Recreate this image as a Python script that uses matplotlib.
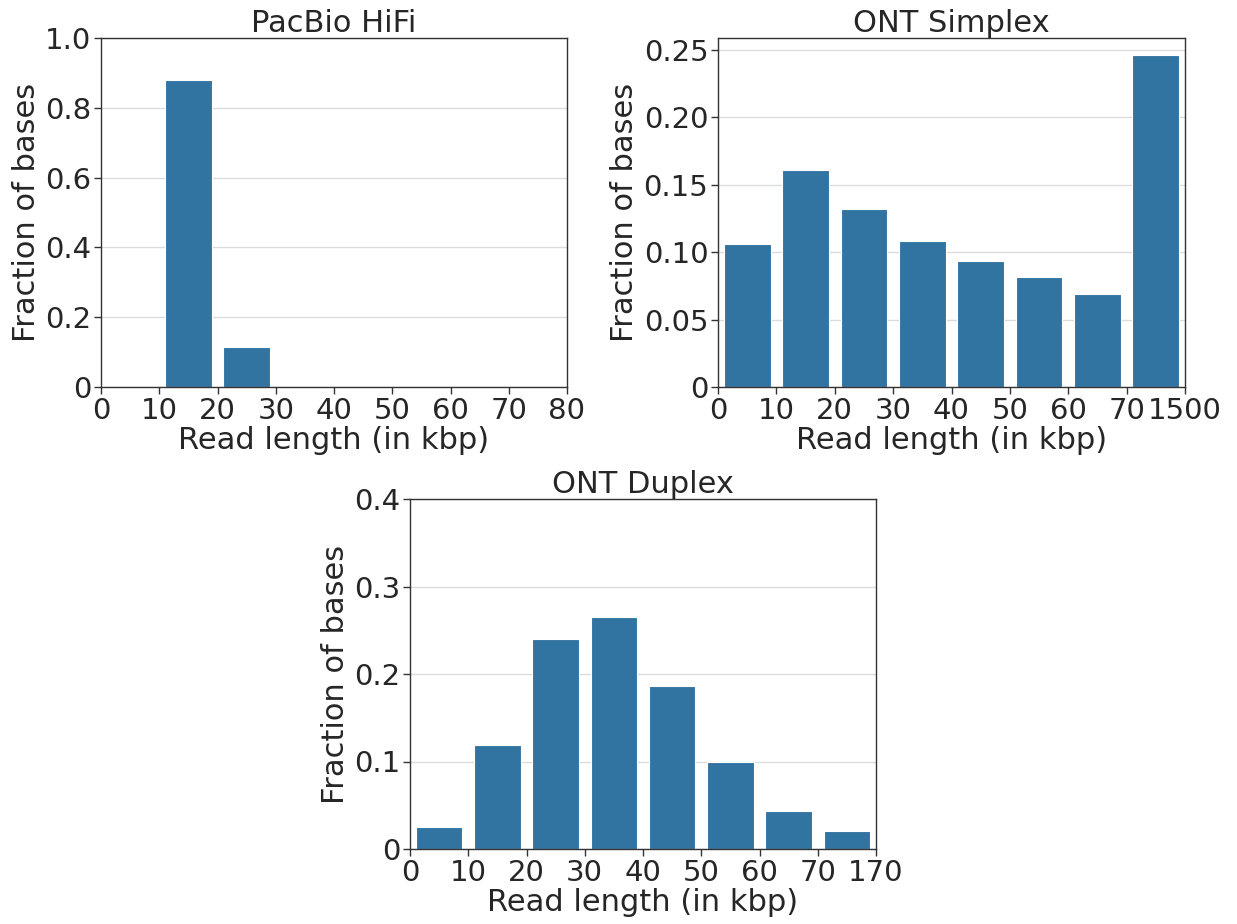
import matplotlib
matplotlib.use("Agg")
import matplotlib.pyplot as plt
import numpy as np

plt.rcParams['font.family'] = ['DejaVu Sans']

# Data
bin_labels_hifi = ["0", "10", "20", "30", "40", "50", "60", "70", "80"]
frac_hifi = [0.0, 0.881, 0.114, 0.0, 0.0, 0.0, 0.0, 0.0]

bin_labels_simplex = ["0", "10", "20", "30", "40", "50", "60", "70", "1500"]
frac_simplex = [0.1057, 0.1609, 0.1319, 0.1082, 0.0931, 0.0814, 0.0691, 0.2465]

bin_labels_duplex = ["0", "10", "20", "30", "40", "50", "60", "70", "170"]
frac_duplex = [0.0249, 0.1184, 0.2398, 0.2651, 0.1858, 0.0989, 0.0429, 0.0203]

yticks_hifi = [0, 0.2, 0.4, 0.6, 0.8, 1.0]
yticklabels_hifi = ["0", "0.2", "0.4", "0.6", "0.8", "1.0"]
yticks_simplex = [0, 0.05, 0.10, 0.15, 0.20, 0.25]
yticklabels_simplex = ["0", "0.05", "0.10", "0.15", "0.20", "0.25"]
yticks_duplex = [0, 0.1, 0.2, 0.3, 0.4]
yticklabels_duplex = ["0", "0.1", "0.2", "0.3", "0.4"]

titles = ["PacBio HiFi", "ONT Simplex", "ONT Duplex"]

BAR_COLOR = "#3274a1"
TEXT_COLOR = "#262626"

W, H = 1237, 924
fig = plt.figure(figsize=(W / 100, H / 100), dpi=100)

def rect(x0, y0, x1, y1):
    return [x0 / W, 1 - y1 / H, (x1 - x0) / W, (y1 - y0) / H]

axes = [
    fig.add_axes(rect(101, 38, 567, 387)),
    fig.add_axes(rect(718, 38, 1185, 387)),
    fig.add_axes(rect(410, 499, 876, 849)),
]

datasets = [
    (frac_hifi, bin_labels_hifi, yticks_hifi, yticklabels_hifi, (0, 1.0)),
    (frac_simplex, bin_labels_simplex, yticks_simplex, yticklabels_simplex, None),
    (frac_duplex, bin_labels_duplex, yticks_duplex, yticklabels_duplex, (0, 0.4)),
]

for ax, (vals, xlabels, yt, ytl, ylim), title in zip(axes, datasets, titles):
    x = np.arange(len(vals))
    ax.bar(x, vals, width=0.8, color=BAR_COLOR, edgecolor="white", linewidth=0.8, zorder=2)
    ax.set_xlim(-0.5, len(vals) - 0.5)
    ax.set_xticks(np.arange(len(xlabels)) - 0.5)
    ax.set_xticklabels(xlabels)
    if ylim is not None:
        ax.set_ylim(*ylim)
    else:
        ax.set_ylim(0, max(vals) * 1.05)
    ax.set_yticks(yt)
    ax.set_yticklabels(ytl)
    ax.yaxis.grid(True, color="#dcdcdc", linewidth=1.0, zorder=0)
    ax.set_axisbelow(True)
    for sp in ax.spines.values():
        sp.set_color("#333333")
        sp.set_linewidth(1.0)
    ax.tick_params(axis="both", labelsize=21, colors=TEXT_COLOR, length=5, width=1,
                   color="#333333", pad=2)
    ax.set_xlabel("Read length (in kbp)", fontsize=22, color=TEXT_COLOR, labelpad=1)
    ax.set_ylabel("Fraction of bases", fontsize=22, color=TEXT_COLOR, labelpad=3)
    ax.set_title(title, fontsize=22, color=TEXT_COLOR, pad=3)

fig.savefig("out.png", dpi=100)
